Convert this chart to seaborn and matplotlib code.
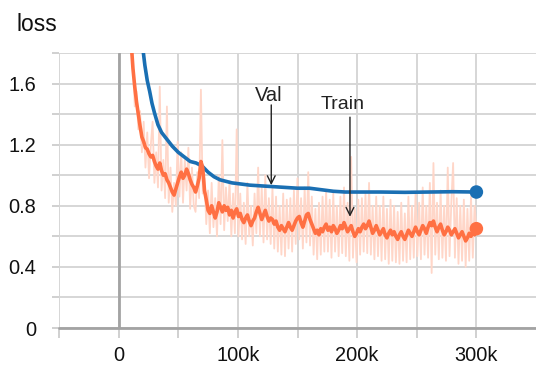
import numpy as np
import pandas as pd
import seaborn as sns
import matplotlib.pyplot as plt
from matplotlib.ticker import FixedLocator, FuncFormatter

# ---------------- data ----------------
train_steps_k = [
    9, 10.5, 12, 13.5, 15, 16.5, 18, 19.5, 21, 22.5,
    24, 25.5, 27, 28.5, 30, 31.5, 33, 34.5, 36, 37.5,
    39, 40.5, 42, 43.5, 45, 46.5, 48, 49.5, 51, 52.5,
    54, 55.5, 57, 58.5, 60, 61.5, 63, 64.5, 66, 67.5,
    69, 70.5, 72, 73.5, 75, 76.5, 78, 79.5, 81, 82.5,
    84, 85.5, 87, 88.5, 90, 91.5, 93, 94.5, 96, 97.5,
    99, 100.5, 102, 103.5, 105, 106.5, 108, 109.5, 111, 112.5,
    114, 115.5, 117, 118.5, 120, 121.5, 123, 124.5, 126, 127.5,
    129, 130.5, 132, 133.5, 135, 136.5, 138, 139.5, 141, 142.5,
    144, 145.5, 147, 148.5, 150, 151.5, 153, 154.5, 156, 157.5,
    159, 160.5, 162, 163.5, 165, 166.5, 168, 169.5, 171, 172.5,
    174, 175.5, 177, 178.5, 180, 181.5, 183, 184.5, 186, 187.5,
    189, 190.5, 192, 193.5, 195, 196.5, 198, 199.5, 201, 202.5,
    204, 205.5, 207, 208.5, 210, 211.5, 213, 214.5, 216, 217.5,
    219, 220.5, 222, 223.5, 225, 226.5, 228, 229.5, 231, 232.5,
    234, 235.5, 237, 238.5, 240, 241.5, 243, 244.5, 246, 247.5,
    249, 250.5, 252, 253.5, 255, 256.5, 258, 259.5, 261, 262.5,
    264, 265.5, 267, 268.5, 270, 271.5, 273, 274.5, 276, 277.5,
    279, 280.5, 282, 283.5, 285, 286.5, 288, 289.5, 291, 292.5,
    294, 295.5, 297, 298.5, 300]

train_smooth = [
    2.05, 1.88, 1.70, 1.58, 1.48, 1.40, 1.32, 1.25, 1.22, 1.18,
    1.17, 1.14, 1.12, 1.13, 1.09, 1.06, 1.04, 1.08, 1.03, 1.00,
    1.01, 0.97, 0.95, 0.92, 0.89, 0.87, 0.91, 0.95, 0.99, 1.02,
    0.98, 1.00, 1.04, 1.01, 0.97, 0.94, 0.92, 0.89, 0.93, 0.98,
    1.09, 1.05, 0.90, 0.84, 0.77, 0.75, 0.80, 0.76, 0.72, 0.76,
    0.82, 0.79, 0.76, 0.80, 0.77, 0.79, 0.74, 0.77, 0.72, 0.76,
    0.78, 0.73, 0.75, 0.71, 0.69, 0.72, 0.74, 0.70, 0.67, 0.70,
    0.72, 0.76, 0.79, 0.75, 0.71, 0.74, 0.77, 0.73, 0.70, 0.72,
    0.71, 0.68, 0.70, 0.66, 0.64, 0.67, 0.65, 0.63, 0.66, 0.69,
    0.66, 0.64, 0.67, 0.70, 0.72, 0.73, 0.69, 0.66, 0.70, 0.74,
    0.75, 0.71, 0.68, 0.65, 0.62, 0.64, 0.61, 0.65, 0.63, 0.66,
    0.68, 0.64, 0.66, 0.63, 0.67, 0.65, 0.62, 0.64, 0.67, 0.65,
    0.69, 0.66, 0.63, 0.65, 0.67, 0.63, 0.60, 0.62, 0.65, 0.63,
    0.66, 0.68, 0.65, 0.67, 0.70, 0.66, 0.62, 0.64, 0.67, 0.64,
    0.61, 0.63, 0.65, 0.61, 0.59, 0.62, 0.64, 0.61, 0.63, 0.60,
    0.58, 0.61, 0.63, 0.60, 0.58, 0.61, 0.64, 0.62, 0.60, 0.63,
    0.66, 0.63, 0.61, 0.64, 0.67, 0.65, 0.62, 0.66, 0.69, 0.67,
    0.70, 0.66, 0.63, 0.66, 0.68, 0.64, 0.61, 0.63, 0.66, 0.64,
    0.61, 0.63, 0.65, 0.62, 0.59, 0.61, 0.63, 0.60, 0.57, 0.59,
    0.62, 0.60, 0.63, 0.61, 0.65]

train_raw = [
    2.10, 1.80, 1.75, 1.45, 1.55, 1.30, 1.42, 1.15, 1.35, 1.05,
    1.28, 0.98, 1.20, 1.35, 0.95, 1.15, 0.92, 1.58, 0.90, 1.10,
    0.85, 1.45, 0.82, 1.05, 0.76, 0.95, 0.80, 1.22, 0.86, 1.15,
    0.82, 1.10, 0.90, 1.18, 0.78, 1.05, 0.80, 0.76, 1.02, 0.85,
    1.56, 0.88, 0.98, 0.68, 0.90, 0.62, 0.95, 0.66, 0.85, 0.60,
    1.00, 0.68, 1.23, 0.64, 0.92, 0.70, 0.96, 0.60, 0.88, 0.62,
    1.30, 0.60, 0.88, 0.58, 0.82, 0.55, 0.95, 0.60, 0.80, 0.54,
    0.88, 0.62, 1.05, 0.60, 0.92, 0.56, 1.00, 0.58, 0.85, 0.55,
    0.92, 0.52, 0.86, 0.50, 0.80, 0.48, 0.88, 0.47, 0.84, 0.52,
    0.85, 0.50, 0.90, 0.55, 0.98, 0.58, 0.85, 0.52, 0.92, 0.56,
    1.02, 0.54, 0.86, 0.48, 0.78, 0.45, 0.82, 0.48, 0.86, 0.50,
    0.90, 0.50, 0.84, 0.46, 0.88, 0.50, 0.80, 0.47, 0.86, 0.49,
    0.92, 0.47, 0.82, 0.44, 1.12, 0.46, 0.78, 0.43, 0.84, 0.48,
    0.85, 0.50, 0.88, 0.49, 0.95, 0.48, 0.80, 0.45, 0.86, 0.47,
    0.80, 0.44, 0.86, 0.45, 0.78, 0.42, 0.84, 0.44, 0.80, 0.43,
    0.76, 0.42, 0.82, 0.44, 0.75, 0.43, 0.86, 0.45, 0.80, 0.46,
    0.88, 0.47, 0.82, 0.45, 0.92, 0.48, 0.80, 0.46, 0.95, 0.36,
    1.08, 0.48, 0.82, 0.45, 0.90, 0.46, 0.80, 0.44, 1.05, 0.47,
    0.82, 1.08, 0.46, 0.85, 0.42, 0.80, 0.44, 0.84, 0.40, 0.78,
    0.44, 0.86, 0.46, 0.80, 0.65]

val_steps_k = [20, 22, 24, 26, 28, 30, 33, 36, 40, 45,
               50, 55, 60, 65, 70, 75, 80, 85, 90, 95,
               100, 110, 120, 130, 140, 150, 160, 170, 180, 190,
               200, 220, 240, 260, 280, 300]
val_loss = [1.85, 1.72, 1.62, 1.55, 1.47, 1.41, 1.33, 1.28, 1.24, 1.19,
            1.15, 1.12, 1.09, 1.08, 1.06, 1.02, 0.99, 0.97, 0.96, 0.95,
            0.945, 0.935, 0.93, 0.925, 0.92, 0.915, 0.915, 0.905, 0.895, 0.89,
            0.89, 0.89, 0.888, 0.89, 0.892, 0.89]

x_ticks = [-50000, 0, 50000, 100000, 150000, 200000, 250000, 300000]
x_labels = {0: "0", 100000: "100k", 200000: "200k", 300000: "300k"}
y_ticks = [0, 0.2, 0.4, 0.6, 0.8, 1.0, 1.2, 1.4, 1.6, 1.8]
y_labels = {0: "0", 0.4: "0.4", 0.8: "0.8", 1.2: "1.2", 1.6: "1.6"}

# ---------------- style ----------------
sns.set_theme(style="whitegrid")
plt.rcParams['font.family'] = ['Liberation Sans', 'DejaVu Sans']

W, H = 536, 369
fig = plt.figure(figsize=(W / 100, H / 100), dpi=100)
ax = fig.add_axes([59 / W, 41 / H, 477 / W, 275 / H])

train_df = pd.DataFrame({"step": [s * 1000 for s in train_steps_k],
                         "smooth": train_smooth, "raw": train_raw})
val_df = pd.DataFrame({"step": [s * 1000 for s in val_steps_k], "loss": val_loss})

orange = "#ff7043"
blue = "#1a6fb3"

sns.lineplot(data=train_df, x="step", y="raw", ax=ax, color="#ffd6c8", lw=1.3)
sns.lineplot(data=val_df, x="step", y="loss", ax=ax, color=blue, lw=2.6)
sns.lineplot(data=train_df, x="step", y="smooth", ax=ax, color=orange, lw=2.6)

last_df = pd.DataFrame({"step": [val_df["step"].iloc[-1], train_df["step"].iloc[-1]],
                        "v": [val_loss[-1], train_smooth[-1]],
                        "s": ["val", "train"]})
sns.scatterplot(data=last_df, x="step", y="v", hue="s", palette={"val": blue, "train": orange},
                s=95, edgecolor="none", ax=ax, legend=False, zorder=5)

ax.set_xlim(-50000, 350000)
ax.set_ylim(0, 1.8)
ax.xaxis.set_major_locator(FixedLocator(x_ticks))
ax.yaxis.set_major_locator(FixedLocator(y_ticks))
ax.xaxis.set_major_formatter(FuncFormatter(lambda v, p: x_labels.get(int(round(v)), "")))
ax.yaxis.set_major_formatter(FuncFormatter(
    lambda v, p: next((l for k, l in y_labels.items() if abs(k - v) < 1e-6), "")))

ax.grid(True, color="#d6d6d6", lw=1.4)
for s in ax.spines.values():
    s.set_visible(False)
ax.axvline(0, color="#a3a3a3", lw=2, zorder=1)
ax.axhline(0, color="#a3a3a3", lw=2, zorder=1, clip_on=False)

ax.tick_params(axis="x", length=7.2, width=1.4, color="#d0d0d0", pad=5.5,
               labelsize=14.4, labelcolor="#111111", bottom=True)
ax.tick_params(axis="y", length=5, width=1.4, color="#d0d0d0", pad=11.5,
               labelsize=14.4, labelcolor="#111111", left=True)
ax.set_xlabel("")
ax.set_ylabel("")

# annotations
arrow = dict(arrowstyle="->", color="#222222", lw=1.0, mutation_scale=14, shrinkA=0, shrinkB=0)
ax.annotate("", xy=(128000, 0.935), xytext=(128000, 1.46), arrowprops=arrow, zorder=6)
ax.text(126000, 1.52, "Val", ha="center", va="center", fontsize=14.5, color="#222222")
ax.annotate("", xy=(194000, 0.728), xytext=(194000, 1.38), arrowprops=arrow, zorder=6)
ax.text(188000, 1.465, "Train", ha="center", va="center", fontsize=14, color="#222222")

fig.text(17 / W, 1 - 31 / H, "loss", fontsize=16.5, va="baseline", ha="left", color="#111111")

fig.savefig("out.png", dpi=100)
